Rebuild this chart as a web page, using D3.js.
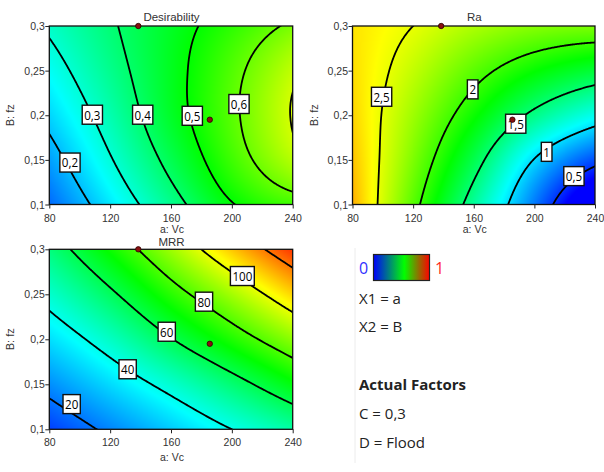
<!DOCTYPE html>
<html><head><meta charset="utf-8">
<script src="https://cdn.jsdelivr.net/npm/d3@7"></script>
<style>
body{margin:0;background:#fff}
svg{display:block}
text{font-family:"Open Sans","Noto Sans",sans-serif}
.ax{font-family:"Liberation Sans",Arial,sans-serif}
</style>
</head><body>
<svg id="c" width="604" height="472"></svg>
<script>
// ---------- data ----------
const vcTicks = [80, 120, 160, 200, 240];
const fzTicks = [0.1, 0.15, 0.2, 0.25, 0.3];
const fzTickLabels = ["0,1", "0,15", "0,2", "0,25", "0,3"];
const vcGrid = [80, 120, 160, 200, 240];
const fzGrid = [0.1, 0.15, 0.2, 0.25, 0.3];

// rows: fz = 0.10 .. 0.30 ; columns: Vc = 80 .. 240
const desirability = [
  [0.120, 0.240, 0.366, 0.495, 0.560],
  [0.170, 0.294, 0.425, 0.559, 0.672],
  [0.221, 0.335, 0.463, 0.584, 0.705],
  [0.267, 0.367, 0.471, 0.577, 0.683],
  [0.312, 0.390, 0.466, 0.541, 0.615]
];
const ra = [
  [2.80, 2.08, 1.38, 0.71, 0.02],
  [2.74, 2.19, 1.61, 0.99, 0.58],
  [2.69, 2.285, 1.86, 1.44, 1.136],
  [2.66, 2.39, 2.09, 1.84, 1.67],
  [2.64, 2.50, 2.33, 2.22, 2.19]
];
const mrr = [
  [12.9, 22.0, 31.0, 40.0, 49.0],
  [23.2, 33.0, 43.5, 55.5, 68.6],
  [33.5, 45.0, 59.5, 73.8, 88.1],
  [43.7, 58.0, 75.0, 91.0, 108.0],
  [54.0, 71.6, 90.3, 109.8, 128.5]
];

const desLevels = [0.2, 0.3, 0.4, 0.5, 0.6, 0.7];
const raLevels = [0.5, 1, 1.5, 2, 2.5];
const mrrLevels = [20, 40, 60, 80, 100, 120];

// contour labels: [text, Vc, fz]
const desLabels = [["0,2", 93.6, 0.147], ["0,3", 108.3, 0.2006], ["0,4", 141.4, 0.2006], ["0,5", 174, 0.1994], ["0,6", 204.7, 0.2126]];
const raLabels = [["2,5", 99.2, 0.2207], ["2", 159.3, 0.229], ["1,5", 187.7, 0.1905], ["1", 208.1, 0.159], ["0,5", 226.1, 0.1318]];
const mrrLabels = [["20", 94.7, 0.128], ["40", 131.5, 0.1667], ["60", 157.2, 0.2084], ["80", 181.7, 0.2418], ["100", 206.9, 0.2703]];

const designPoints = [[138.5, 0.3], [185.5, 0.195]];

// colour ranges (value at blue .. red)
const desColorRange = [0.02, 0.98];
const raColorRange = [0.35, 3.3];
const mrrColorRange = [5, 135];
const rainbow = ["#0000ff", "#00ffff", "#00ff00", "#ffff00", "#ff0000"];

// ---------- surface interpolation (Catmull-Rom over the read grid) ----------
function makeSurface(grid) {
  const ext = a => { const n = a.length; return [3*a[0]-3*a[1]+a[2], ...a, 3*a[n-1]-3*a[n-2]+a[n-3]]; };
  const rows = grid.map(ext);
  const n = rows.length;
  const first = rows[0].map((_, k) => 3*rows[0][k]-3*rows[1][k]+rows[2][k]);
  const last = rows[0].map((_, k) => 3*rows[n-1][k]-3*rows[n-2][k]+rows[n-3][k]);
  const E = [first, ...rows, last];
  const cr = (p0,p1,p2,p3,t) => 0.5*(2*p1 + (-p0+p2)*t + (2*p0-5*p1+4*p2-p3)*t*t + (-p0+3*p1-3*p2+p3)*t*t*t);
  const gx = d3.scaleLinear().domain([vcGrid[0], vcGrid[vcGrid.length-1]]).range([0, vcGrid.length-1]);
  const gy = d3.scaleLinear().domain([fzGrid[0], fzGrid[fzGrid.length-1]]).range([0, fzGrid.length-1]);
  return function(vc, fz) {
    const u = gx(vc), v = gy(fz);
    const i = Math.max(0, Math.min(vcGrid.length-2, Math.floor(u))), t = u - i;
    const j = Math.max(0, Math.min(fzGrid.length-2, Math.floor(v))), s = v - j;
    const r = [];
    for (let k = 0; k < 4; k++) {
      const row = E[j+k];
      r.push(cr(row[i], row[i+1], row[i+2], row[i+3], t));
    }
    return cr(r[0], r[1], r[2], r[3], s);
  };
}

const svg = d3.select("#c");
const defs = svg.append("defs");

function panel(cfg) {
  const {x0, x1, y0, y1, grid, levels, labels, colorRange, title, titleY, xLabelY, id} = cfg;
  const x = d3.scaleLinear().domain([80, 240]).range([x0, x1]);
  const y = d3.scaleLinear().domain([0.1, 0.3]).range([y1, y0]);
  const f = makeSurface(grid);
  const cr = colorRange;
  const color = d3.scaleLinear()
    .domain(d3.range(5).map(k => cr[0] + (cr[1]-cr[0])*k/4))
    .range(rainbow).clamp(true);

  // fill raster
  const W = Math.round(x1 - x0), H = Math.round(y1 - y0);
  const cv = document.createElement("canvas"); cv.width = W; cv.height = H;
  const ctx = cv.getContext("2d");
  const img = ctx.createImageData(W, H);
  for (let py = 0; py < H; py++) {
    for (let px = 0; px < W; px++) {
      const vc = x.invert(x0 + px + 0.5), fz = y.invert(y0 + py + 0.5);
      const c = d3.rgb(color(f(vc, fz)));
      const o = (py*W + px)*4;
      img.data[o] = c.r; img.data[o+1] = c.g; img.data[o+2] = c.b; img.data[o+3] = 255;
    }
  }
  ctx.putImageData(img, 0, 0);
  const g = svg.append("g");
  defs.append("clipPath").attr("id", "clip" + id)
    .append("rect").attr("x", x0).attr("y", y0).attr("width", x1-x0).attr("height", y1-y0);
  g.append("image").attr("href", cv.toDataURL()).attr("x", x0).attr("y", y0)
    .attr("width", x1-x0).attr("height", y1-y0).attr("preserveAspectRatio", "none");

  // contours on a fine grid extending a little beyond the plot
  const vcStart = 77, vcStep = 0.6, fzStart = 0.097, fzStep = 0.0008;
  const nx = Math.ceil((243 - vcStart)/vcStep) + 1, ny = Math.ceil((0.303 - fzStart)/fzStep) + 1;
  const vals = new Float64Array(nx*ny);
  for (let j = 0; j < ny; j++) for (let i = 0; i < nx; i++)
    vals[j*nx + i] = f(vcStart + i*vcStep, fzStart + j*fzStep);
  const contours = d3.contours().size([nx, ny]).thresholds(levels)(vals);
  const cx = c => x(vcStart + (c - 0.5)*vcStep);
  const cy = c => y(fzStart + (c - 0.5)*fzStep);
  const line = d3.line();
  const cg = g.append("g").attr("clip-path", `url(#clip${id})`);
  contours.forEach(ct => {
    ct.coordinates.forEach(poly => poly.forEach(ring => {
      cg.append("path").attr("d", line(ring.map(p => [cx(p[0]), cy(p[1])])) + "Z")
        .attr("fill", "none").attr("stroke", "#000").attr("stroke-width", 1.8)
        .attr("stroke-linejoin", "round");
    }));
  });

  // frame
  g.append("rect").attr("x", x0).attr("y", y0).attr("width", x1-x0).attr("height", y1-y0)
    .attr("fill", "none").attr("stroke", "#111").attr("stroke-width", 1.3);

  // axes
  const xa = g.append("g").attr("transform", `translate(0,${y1})`)
    .call(d3.axisBottom(x).tickValues(vcTicks).tickSize(4).tickSizeOuter(0).tickFormat(d3.format("d")));
  const ya = g.append("g").attr("transform", `translate(${x0},0)`)
    .call(d3.axisLeft(y).tickValues(fzTicks).tickSize(4).tickSizeOuter(0).tickFormat((d, k) => fzTickLabels[k]));
  [xa, ya].forEach(a => {
    a.select(".domain").remove();
    a.selectAll("line").attr("stroke", "#222");
    a.selectAll("text").attr("class", "ax").attr("font-size", 10.5).attr("fill", "#333")
      .attr("font-family", null);
  });
  a_fix(xa, ya);
  function a_fix(xa, ya) {
    xa.selectAll("text").attr("dy", null).attr("y", 17);
    ya.selectAll("text").attr("x", -4.5).attr("dy", "0.35em");
  }

  g.append("text").attr("class", "ax").attr("x", (x0+x1)/2 + 0.5).attr("y", titleY).attr("text-anchor", "middle")
    .attr("font-size", 11.5).attr("fill", "#333").text(title);
  g.append("text").attr("class", "ax").attr("x", (x0+x1)/2 + 1).attr("y", xLabelY).attr("text-anchor", "middle")
    .attr("font-size", 10.5).attr("fill", "#333").text("a: Vc");
  g.append("text").attr("class", "ax").attr("transform", `translate(${x0-35},${(y0+y1)/2}) rotate(-90)`)
    .attr("text-anchor", "middle").attr("font-size", 11).attr("fill", "#333").text("B: fz");

  // contour labels
  labels.forEach(([t, vc, fz]) => {
    const lg = g.append("g").attr("transform", `translate(${x(vc)},${y(fz)})`);
    const tx = lg.append("text").attr("text-anchor", "middle").attr("dy", "0.36em")
      .attr("font-size", 13.5).attr("fill", "#000")
      .attr("transform", "scale(0.86,1)").text(t);
    const w = tx.node().getComputedTextLength()*0.86 + 4;
    lg.insert("rect", "text").attr("x", -w/2).attr("y", -9.5).attr("width", w).attr("height", 19)
      .attr("fill", "#fff").attr("stroke", "#111").attr("stroke-width", 1.4);
  });

  // design points
  designPoints.forEach(([vc, fz]) => {
    g.append("circle").attr("cx", x(vc)).attr("cy", y(fz)).attr("r", 2.7)
      .attr("fill", "#8a1010").attr("stroke", "#2a0000").attr("stroke-width", 0.8);
  });
}

panel({id: 1, x0: 49.3, x1: 292.7, y0: 26, y1: 204.5, grid: desirability, levels: desLevels,
  labels: desLabels, colorRange: desColorRange, title: "Desirability", titleY: 20.5, xLabelY: 233.4});
panel({id: 2, x0: 352.5, x1: 595, y0: 26, y1: 204.5, grid: ra, levels: raLevels,
  labels: raLabels, colorRange: raColorRange, title: "Ra", titleY: 20.5, xLabelY: 233.4});
panel({id: 3, x0: 49.3, x1: 292.7, y0: 249.3, y1: 429.3, grid: mrr, levels: mrrLevels,
  labels: mrrLabels, colorRange: mrrColorRange, title: "MRR", titleY: 246.2, xLabelY: 460.5});

// ---------- legend ----------
const lg = svg.append("g");
lg.append("line").attr("x1", 355).attr("x2", 355).attr("y1", 248).attr("y2", 463)
  .attr("stroke", "#ececec").attr("stroke-width", 1);
const grad = defs.append("linearGradient").attr("id", "bar");
[["0%", "#0000ff"], ["55%", "#00ff00"], ["100%", "#ff0000"]].forEach(([o, c]) =>
  grad.append("stop").attr("offset", o).attr("stop-color", c));
lg.append("rect").attr("x", 373.5).attr("y", 254.5).attr("width", 56).attr("height", 26)
  .attr("fill", "url(#bar)").attr("stroke", "#222").attr("stroke-width", 1.2);
lg.append("text").attr("x", 363.5).attr("y", 273.5).attr("text-anchor", "middle")
  .attr("font-size", 16).attr("fill", "#3030ff").text("0");
lg.append("text").attr("x", 439.5).attr("y", 273.5).attr("text-anchor", "middle")
  .attr("font-size", 16).attr("fill", "#ff2a2a").text("1");
const legendLines = [["X1 = a", 303.5, 400], ["X2 = B", 332, 400], ["Actual Factors", 390, 700], ["C = 0,3", 419, 400], ["D = Flood", 447.5, 400]];
legendLines.forEach(([t, yy, wgt]) => lg.append("text").attr("x", 359).attr("y", yy)
  .attr("font-size", 15).attr("font-weight", wgt).attr("fill", "#222").text(t));
</script>
</body></html>
